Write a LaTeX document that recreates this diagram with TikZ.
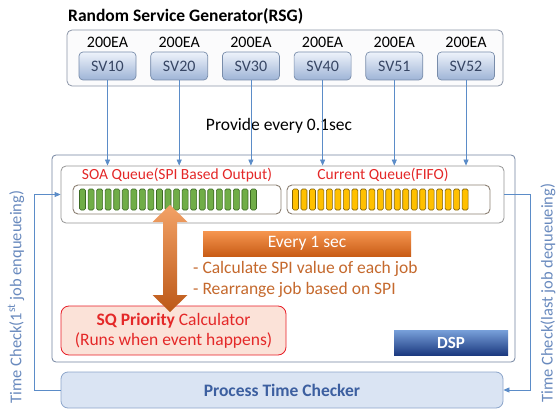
\documentclass[tikz,border=0pt]{standalone}
\usepackage{fontspec}
\setmainfont{Carlito}
\usepackage{tikz}
\usetikzlibrary{arrows.meta, positioning}
\definecolor{rsgborder}{RGB}{140,150,168}
\definecolor{rsgbg}{RGB}{251,251,252}
\definecolor{svtop}{RGB}{238,243,251}
\definecolor{svbot}{RGB}{158,180,214}
\definecolor{svborder}{RGB}{120,140,170}
\definecolor{svtext}{RGB}{55,70,100}
\definecolor{linkblue}{RGB}{91,140,200}
\definecolor{dspborder}{RGB}{115,132,160}
\definecolor{qborder}{RGB}{150,150,150}
\definecolor{tubeborder}{RGB}{140,128,115}
\definecolor{qred}{RGB}{228,40,40}
\definecolor{greenfill}{RGB}{112,173,71}
\definecolor{greenedge}{RGB}{60,105,35}
\definecolor{yellowfill}{RGB}{255,192,0}
\definecolor{yellowedge}{RGB}{125,95,10}
\definecolor{arrowtop}{RGB}{243,162,102}
\definecolor{arrowmid}{RGB}{232,122,50}
\definecolor{arrowbot}{RGB}{188,88,24}
\definecolor{bannertop}{RGB}{246,150,80}
\definecolor{bannerbot}{RGB}{200,92,22}
\definecolor{notebrown}{RGB}{197,105,45}
\definecolor{sqfill}{RGB}{251,226,216}
\definecolor{sqborder}{RGB}{232,30,40}
\definecolor{dsptop}{RGB}{120,160,218}
\definecolor{dspbot}{RGB}{28,58,128}
\definecolor{ptcfill}{RGB}{218,228,243}
\definecolor{ptcborder}{RGB}{140,165,202}
\definecolor{ptctext}{RGB}{60,95,160}
\definecolor{checktext}{RGB}{105,138,190}
\tikzset{
  titletext/.style={
    font=\fontsize{17.5}{21}\selectfont\bfseries, inner sep=0pt
  },
  rsgbox/.style={
    draw=rsgborder, fill=rsgbg, line width=0.8pt,
    rounded corners=5pt, minimum width=436pt, minimum height=56pt
  },
  svbox/.style={
    draw=svborder, top color=svtop, bottom color=svbot, line width=0.7pt,
    rounded corners=4pt, minimum width=57pt, minimum height=28pt,
    inner sep=0pt, font=\fontsize{16}{19}\selectfont\color{svtext}
  },
  ealabel/.style={
    font=\fontsize{16}{19}\selectfont, inner sep=0pt
  },
  plaintext/.style={
    font=\fontsize{17.5}{21}\selectfont, inner sep=0pt
  },
  dspbox/.style={
    draw=dspborder, fill=white, line width=0.8pt,
    rounded corners=4pt, minimum width=463pt, minimum height=207pt
  },
  queuebox/.style={
    draw=qborder, fill=white, line width=0.8pt,
    rounded corners=5pt, minimum width=443pt, minimum height=57pt
  },
  tubebox/.style={
    draw=tubeborder, fill=white, line width=0.9pt,
    rounded corners=5pt, minimum height=29pt, inner sep=0pt
  },
  queuelabel/.style={
    font=\fontsize{15.5}{18}\selectfont\color{qred}, inner sep=0pt
  },
  greenbar/.style={
    draw=greenedge, fill=greenfill, line width=0.6pt,
    rounded corners=1.5pt, minimum width=6pt, minimum height=21pt, inner sep=0pt
  },
  yellowbar/.style={
    draw=yellowedge, fill=yellowfill, line width=0.6pt,
    rounded corners=1.5pt, minimum width=6pt, minimum height=21pt, inner sep=0pt
  },
  bannerbox/.style={
    top color=bannertop, bottom color=bannerbot,
    minimum width=208pt, minimum height=25pt, inner sep=0pt,
    font=\fontsize{17.5}{21}\selectfont\color{white}
  },
  notetext/.style={
    font=\fontsize{17.5}{21}\selectfont\color{notebrown},
    anchor=west, inner sep=0pt
  },
  sqbox/.style={
    draw=sqborder, fill=sqfill, line width=0.8pt,
    rounded corners=8pt, minimum width=225pt, minimum height=49pt,
    align=center, inner sep=0pt,
    font=\fontsize{17.5}{20}\selectfont\color{qred}
  },
  dsplabel/.style={
    top color=dsptop, bottom color=dspbot,
    minimum width=114pt, minimum height=25pt, inner sep=0pt,
    font=\fontsize{17}{20}\selectfont\bfseries\color{white}
  },
  ptcbox/.style={
    draw=ptcborder, fill=ptcfill, line width=0.8pt,
    rounded corners=7pt, minimum width=442pt, minimum height=36pt,
    font=\fontsize{17.5}{21}\selectfont\bfseries\color{ptctext}
  },
  checklabel/.style={
    rotate=90, inner sep=0pt,
    font=\fontsize{16.5}{20}\selectfont\color{checktext}
  },
  feedarrow/.style={
    -{Triangle[length=6pt,width=5pt]},
    draw=linkblue, line width=0.8pt
  },
}

\begin{document}
\begin{tikzpicture}[x=1pt, y=-1pt]
    \useasboundingbox[fill=white] (0,0) rectangle (556,414);

    %% Service generator
    \node[titletext, anchor=west] (title) at (68,16) {Random Service Generator(RSG)};
    \node[rsgbox] (rsg) at (285,58) {};
    \node[svbox] (sv1) at (107.5,66) {SV10};
    \node[svbox, right=14pt of sv1] (sv2) {SV20};
    \node[svbox, right=14pt of sv2] (sv3) {SV30};
    \node[svbox, right=14pt of sv3] (sv4) {SV40};
    \node[svbox, right=14pt of sv4] (sv5) {SV51};
    \node[svbox, right=14pt of sv5] (sv6) {SV52};
    \foreach \i in {1,...,6}
      \node[ealabel, above=4pt of sv\i] (ea\i) {200EA};

    \node[plaintext] (provide) at (279,126) {Provide every 0.1sec};

    %% DSP block
    \node[dspbox] (dsp) at (283.5,258.5) {};
    \node[queuebox] (qbox) at (282.5,194.5) {};
    \node[queuelabel] (soalab) at (177,175) {SOA Queue(SPI Based Output)};
    \node[queuelabel] (curlab) at (383,175) {Current Queue(FIFO)};
    \node[tubebox, minimum width=208pt] (soa) at (177,199.5) {};
    \node[tubebox, minimum width=203pt] (cur) at (388.5,199.5) {};
    \foreach \i in {0,...,20} {
      \node[greenbar] (g\i) at (82.5+8.55*\i,199.5) {};
      \node[yellowbar] (y\i) at (295.5+8.48*\i,199.5) {};
    }

    \foreach \i in {1,...,6}
      \draw[feedarrow] (sv\i.south) -- (sv\i.south |- qbox.north);

    \node[bannerbox] (every) at (307,243.5) {Every 1 sec};
    \node[notetext] (calc) at (193,269) {- Calculate SPI value of each job};
    \node[notetext] (rearr) at (193,290) {- Rearrange job based on SPI};

    \node[sqbox] (sqc) at (173.5,330.5)
      {\textbf{SQ Priority} Calculator\\(Runs when event happens)};
    \node[dsplabel] (dspname) at (451,342.5) {DSP};

    %% Two-way arrow between queue and calculator
    \coordinate (uptip) at (170,205);
    \coordinate (dntip) at (170,312);
    \shade[top color=arrowtop, middle color=arrowmid, bottom color=arrowbot]
      (uptip) -- ++(17.5,17) -- ++(-10.5,0) -- ++(0,73) -- ++(10.5,0)
      -- (dntip) -- ++(-17.5,-17) -- ++(10.5,0) -- ++(0,-73) -- ++(-10.5,0) -- cycle;

    %% Time checker
    \node[ptcbox] (ptc) at (282,390) {Process Time Checker};
    \draw[feedarrow] (ptc.west) -- ++(-26,0) |- (qbox.west);
    \draw[feedarrow] (qbox.east) -- ++(26,0) |- (ptc.east);

    \node[checklabel] (tcin) at (16,297) {Time Check(1\textsuperscript{st} job enqueueing)};
    \node[checklabel] (tcout) at (548,293) {Time Check(last job dequeueing)};

  \end{tikzpicture}
\end{document}
